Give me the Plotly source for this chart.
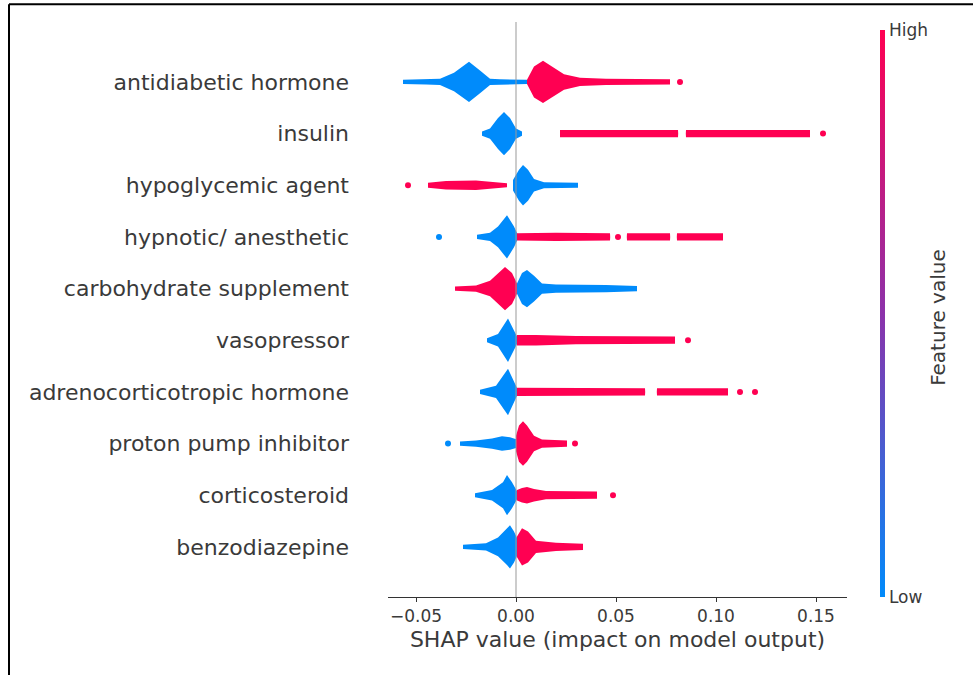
import plotly.graph_objects as go

features = ["antidiabetic hormone", "insulin", "hypoglycemic agent", "hypnotic/ anesthetic",
            "carbohydrate supplement", "vasopressor", "adrenocorticotropic hormone",
            "proton pump inhibitor", "corticosteroid", "benzodiazepine"]

# Low feature value (blue) density profile: SHAP x positions and half-widths (row units)
low_x = [
    [-0.0565, -0.045, -0.038, -0.031, -0.0235, -0.018, -0.013, -0.008, 0.0055],
    [-0.017, -0.013, -0.009, -0.006, -0.003, 0.0, 0.003],
    [-0.0015, 0.0015, 0.0035, 0.006, 0.009, 0.014, 0.031],
    [-0.0195, -0.013, -0.009, -0.0045, -0.001, 0.0008],
    [0.0005, 0.003, 0.0055, 0.009, 0.013, 0.02, 0.045, 0.0605],
    [-0.0145, -0.009, -0.004, -0.001, 0.0008],
    [-0.018, -0.01, -0.004, -0.001, 0.0008],
    [-0.028, -0.02, -0.012, -0.007, -0.003, 0.0005],
    [-0.0205, -0.012, -0.0065, -0.0045, -0.002, 0.0008],
    [-0.0265, -0.015, -0.009, -0.0045, -0.003, -0.001, 0.0008],
]
low_w = [
    [0.04, 0.05, 0.06, 0.18, 0.39, 0.22, 0.06, 0.05, 0.04],
    [0.04, 0.10, 0.30, 0.42, 0.30, 0.10, 0.04],
    [0.10, 0.30, 0.39, 0.30, 0.12, 0.06, 0.05],
    [0.04, 0.08, 0.20, 0.42, 0.20, 0.05],
    [0.10, 0.30, 0.36, 0.25, 0.10, 0.08, 0.07, 0.05],
    [0.04, 0.12, 0.42, 0.20, 0.05],
    [0.04, 0.12, 0.45, 0.20, 0.05],
    [0.04, 0.06, 0.10, 0.14, 0.12, 0.08],
    [0.04, 0.10, 0.25, 0.39, 0.25, 0.06],
    [0.04, 0.07, 0.18, 0.35, 0.42, 0.30, 0.15],
]
# High feature value (red) density profile
high_x = [
    [0.0055, 0.009, 0.0135, 0.018, 0.024, 0.032, 0.045, 0.077],
    [0.022, 0.081, 0.0811, 0.0849, 0.085, 0.147],
    [-0.044, -0.035, -0.02, -0.01, -0.0045],
    [0.0005, 0.02, 0.047, 0.0471, 0.0554, 0.0555, 0.077, 0.0771, 0.0804, 0.0805, 0.1035],
    [-0.0305, -0.02, -0.013, -0.0055, -0.002, 0.0005],
    [0.0005, 0.01, 0.03, 0.0795],
    [0.0005, 0.03, 0.0645, 0.0646, 0.0704, 0.0705, 0.106],
    [0.0, 0.0015, 0.0035, 0.0055, 0.009, 0.013, 0.0255],
    [0.0005, 0.003, 0.0055, 0.009, 0.015, 0.0405],
    [0.0005, 0.003, 0.006, 0.01, 0.02, 0.0335],
]
high_w = [
    [0.04, 0.30, 0.41, 0.30, 0.15, 0.08, 0.06, 0.05],
    [0.07, 0.07, 0.0, 0.0, 0.07, 0.07],
    [0.05, 0.08, 0.09, 0.06, 0.04],
    [0.07, 0.08, 0.07, 0.0, 0.0, 0.07, 0.07, 0.0, 0.0, 0.07, 0.07],
    [0.04, 0.06, 0.15, 0.42, 0.30, 0.10],
    [0.10, 0.10, 0.08, 0.07],
    [0.08, 0.07, 0.07, 0.0, 0.0, 0.07, 0.07],
    [0.15, 0.35, 0.43, 0.35, 0.15, 0.08, 0.06],
    [0.10, 0.14, 0.16, 0.12, 0.08, 0.07],
    [0.20, 0.36, 0.30, 0.12, 0.08, 0.06],
]
# Isolated outlier points
low_dots = [[], [], [], [-0.0385], [], [], [], [-0.034], [], []]
high_dots = [[0.082], [0.1535], [-0.054], [0.051], [], [0.086], [0.112, 0.1195], [0.0295], [0.0485], []]

x_tickvals = [-0.05, 0.0, 0.05, 0.10, 0.15]
x_ticktext = ["\u22120.05", "0.00", "0.05", "0.10", "0.15"]

BLUE = "rgb(0,139,251)"
RED = "rgb(255,0,82)"
TXT = "#3a3a3a"
FONT = "DejaVu Sans"

n = len(features)
fig = go.Figure()


def add_violin(xs, ws, yc, color):
    px = list(xs) + list(xs[::-1])
    py = [yc + w for w in ws] + [yc - w for w in ws[::-1]]
    fig.add_trace(go.Scatter(x=px, y=py, fill="toself", fillcolor=color, mode="lines",
                             line=dict(width=0, color=color), hoverinfo="skip", showlegend=False))


for i, name in enumerate(features):
    yc = n - 1 - i
    add_violin(low_x[i], low_w[i], yc, BLUE)
    add_violin(high_x[i], high_w[i], yc, RED)
    if low_dots[i]:
        fig.add_trace(go.Scatter(x=low_dots[i], y=[yc] * len(low_dots[i]), mode="markers",
                                 marker=dict(color=BLUE, size=6), showlegend=False))
    if high_dots[i]:
        fig.add_trace(go.Scatter(x=high_dots[i], y=[yc] * len(high_dots[i]), mode="markers",
                                 marker=dict(color=RED, size=6), showlegend=False))

# colorbar
fig.add_trace(go.Scatter(
    x=[None], y=[None], mode="markers", showlegend=False,
    marker=dict(color=[0], cmin=0, cmax=1, showscale=True,
                colorscale=[[0, BLUE], [0.5, "rgb(140,50,170)"], [1, RED]],
                colorbar=dict(x=1.071, xanchor="left", xpad=0, y=0, yanchor="bottom", ypad=0,
                              len=0.986, lenmode="fraction", thickness=5, outlinewidth=0,
                              tickvals=[0, 1], ticktext=["Low", "High"], ticks="",
                              tickfont=dict(size=17, color=TXT, family=FONT)))))

fig.add_annotation(text="Feature value", xref="paper", yref="paper", x=1.198, y=0.487,
                   xanchor="center", yanchor="middle",
                   textangle=-90, showarrow=False, font=dict(size=20, color=TXT, family=FONT))

fig.add_vline(x=0, line=dict(color="#999999", width=1))

# frame lines (top and left) of the screenshot
fig.add_shape(type="line", xref="paper", yref="paper", x0=-0.8257, x1=1.3, y0=1.031, y1=1.031,
              line=dict(color="black", width=2))
fig.add_shape(type="line", xref="paper", yref="paper", x0=-0.8257, x1=-0.8257, y0=1.031, y1=-0.2,
              line=dict(color="black", width=2))

fig.update_layout(
    width=973, height=675,
    margin=dict(l=388, r=126, t=22, b=78),
    paper_bgcolor="white", plot_bgcolor="white",
    font=dict(family=FONT, color=TXT),
    xaxis=dict(range=[-0.064, 0.1655], showgrid=False, zeroline=False,
               showline=True, linecolor="#333333", linewidth=1,
               ticks="outside", ticklen=4, tickcolor="#333333",
               tickvals=x_tickvals, ticktext=x_ticktext,
               tickfont=dict(size=17, color=TXT),
               title=dict(text="SHAP value (impact on model output)", font=dict(size=22, color=TXT),
                          standoff=6)),
    yaxis=dict(range=[-0.97, 10.16], showgrid=False, zeroline=False, showline=False,
               tickvals=[n - 1 - i for i in range(n)], ticktext=features, ticks="",
               ticklabelstandoff=38, tickfont=dict(size=22, color=TXT)),
)

fig.write_html("out.html")
